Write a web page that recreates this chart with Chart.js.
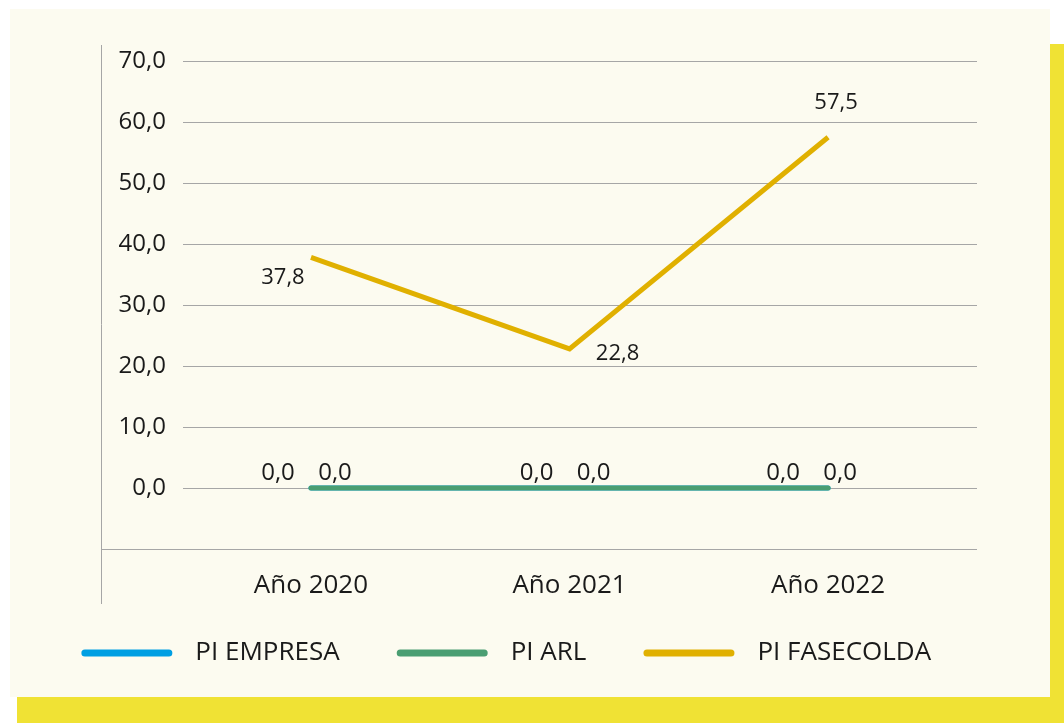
<!DOCTYPE html>
<html>
<head>
<meta charset="utf-8">
<script src="https://cdn.jsdelivr.net/npm/chart.js@4.4.1/dist/chart.umd.min.js"></script>
<style>
  html, body { margin: 0; padding: 0; background: #fff; }
  #wrap { position: relative; width: 1064px; height: 723px; overflow: hidden; }
  .band { position: absolute; left: 17px; top: 44px; width: 1047px; height: 679px; background: #f0e234; }
  .card { position: absolute; left: 10px; top: 9px; width: 1040px; height: 688px; background: #fcfbf0; }
  canvas { position: absolute; left: 0; top: 0; }
</style>
</head>
<body>
<div id="wrap">
  <div class="band"></div>
  <div class="card"></div>
  <canvas id="myChart" width="1064" height="723"></canvas>
</div>
<script>
var years = ["Año 2020", "Año 2021", "Año 2022"];
var piEmpresa = [0, 0, 0];
var piArl = [0, 0, 0];
var piFasecolda = [37.8, 22.8, 57.5];

var FONT = '"Open Sans", "Noto Sans", sans-serif';
var TEXT = '#1a1a1a';
var GRID = '#a6a6a6';

function fmt(v) {
  return v.toFixed(1).replace('.', ',');
}

function toPoints(arr) {
  return arr.map(function(v, i) { return {x: i, y: v}; });
}

// value labels, each series has its own offsets (like the excel labels)
var valueLabels = {
  id: 'valueLabels',
  afterDatasetsDraw: function(chart) {
    var ctx = chart.ctx;
    ctx.save();
    ctx.fillStyle = TEXT;
    ctx.textAlign = 'center';
    ctx.textBaseline = 'middle';
    chart.data.datasets.forEach(function(ds, di) {
      var meta = chart.getDatasetMeta(di);
      ctx.font = ds.labelSize + 'px ' + FONT;
      meta.data.forEach(function(pt, i) {
        var off = ds.labelOffset[i];
        ctx.fillText(fmt(ds.data[i].y), pt.x + off[0], pt.y + off[1]);
      });
    });
    ctx.restore();
  }
};

// left axis line and bottom axis line, drawn longer than the plot like excel does
var axisLines = {
  id: 'axisLines',
  beforeDatasetsDraw: function(chart) {
    var a = chart.chartArea;
    var ctx = chart.ctx;
    var x0 = Math.round(a.left - 82) + 0.5;
    var yb = Math.round(a.bottom) + 0.5;
    ctx.save();
    ctx.strokeStyle = GRID;
    ctx.lineWidth = 1;
    ctx.beginPath();
    ctx.moveTo(x0, a.top - 16);
    ctx.lineTo(x0, a.bottom + 55);
    ctx.moveTo(x0, yb);
    ctx.lineTo(a.right, yb);
    ctx.stroke();
    ctx.restore();
  }
};

var ctx = document.getElementById('myChart').getContext('2d');
var chart = new Chart(ctx, {
  type: 'line',
  data: {
    datasets: [
      {
        label: 'PI EMPRESA',
        data: toPoints(piEmpresa),
        borderColor: '#009fe3',
        backgroundColor: '#009fe3',
        borderWidth: 5,
        borderCapStyle: 'round',
        pointRadius: 0,
        order: 2,
        labelSize: 24,
        labelOffset: [[-33, -15], [-33, -15], [-45, -15]]
      },
      {
        label: 'PI ARL',
        data: toPoints(piArl),
        borderColor: '#4a9e72',
        backgroundColor: '#4a9e72',
        borderWidth: 5,
        borderCapStyle: 'round',
        pointRadius: 0,
        order: 1,
        labelSize: 24,
        labelOffset: [[24, -15], [24, -15], [12, -15]]
      },
      {
        label: 'PI FASECOLDA',
        data: toPoints(piFasecolda),
        borderColor: '#e0b000',
        backgroundColor: '#e0b000',
        borderWidth: 5,
        borderCapStyle: 'butt',
        pointRadius: 0,
        order: 0,
        labelSize: 22,
        labelOffset: [[-28, 20], [48, 5], [8, -35]]
      }
    ]
  },
  options: {
    responsive: false,
    devicePixelRatio: 1,
    animation: false,
    layout: {
      padding: {left: 39, right: 87, top: 61, bottom: 47}
    },
    scales: {
      x: {
        type: 'linear',
        min: -0.495,
        max: 2.576,
        afterBuildTicks: function(scale) {
          scale.ticks = years.map(function(y, i) { return {value: i}; });
        },
        afterFit: function(scale) {
          scale.height = 71;
        },
        grid: {display: false, drawTicks: false},
        border: {display: false},
        ticks: {
          padding: 21,
          maxRotation: 0,
          autoSkip: false,
          color: TEXT,
          font: {family: FONT, size: 26},
          callback: function(v) { return years[v]; }
        }
      },
      y: {
        min: -10,
        max: 70,
        afterFit: function(scale) {
          scale.width = 144;
        },
        grid: {color: GRID, lineWidth: 1, drawTicks: false},
        border: {display: false},
        ticks: {
          stepSize: 10,
          padding: 17,
          color: TEXT,
          font: {family: FONT, size: 24},
          callback: function(v) { return v < 0 ? '' : fmt(v); }
        }
      }
    },
    plugins: {
      tooltip: {enabled: false},
      legend: {
        position: 'bottom',
        labels: {
          usePointStyle: true,
          pointStyle: 'line',
          pointStyleWidth: 84,
          padding: 20,
          color: TEXT,
          font: {family: FONT, size: 26},
          sort: function(a, b) { return a.datasetIndex - b.datasetIndex; },
          generateLabels: function(chart) {
            var items = Chart.defaults.plugins.legend.labels.generateLabels(chart);
            items.forEach(function(it) {
              var ds = chart.data.datasets[it.datasetIndex];
              it.strokeStyle = ds.borderColor;
              it.fillStyle = ds.borderColor;
              it.lineWidth = 7;
              it.lineCap = 'round';
              it.text = '  ' + ds.label + (it.datasetIndex < 2 ? '      ' : '');
            });
            return items;
          }
        }
      }
    }
  },
  plugins: [axisLines, valueLabels]
});
</script>
</body>
</html>
